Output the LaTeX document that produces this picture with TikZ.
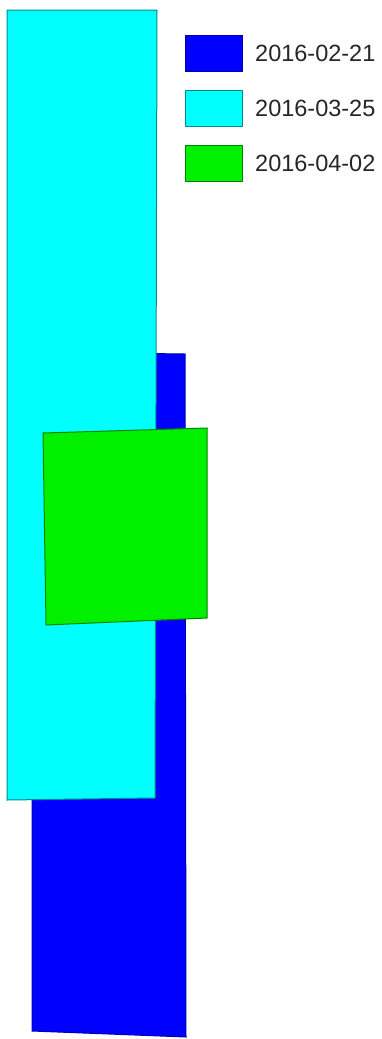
\documentclass[tikz,border=0pt]{standalone}
\usepackage{fontspec}
\setmainfont{Liberation Sans}
\usepackage{tikz}
\usepackage{xcolor}
\usetikzlibrary{positioning}

\definecolor{dateA}{RGB}{0,0,255}
\definecolor{dateB}{RGB}{0,255,255}
\definecolor{dateC}{RGB}{0,240,0}

\begin{document}
\begin{tikzpicture}[
    x=1pt, y=-1pt,
    node distance=18pt and 12pt,
    area/.style={line width=1pt, line join=miter},
    swatch/.style={draw, line width=1pt, minimum width=57pt, minimum height=36pt, inner sep=0pt},
    label/.style={font=\fontsize{23.5}{26}\selectfont, text=black!85, anchor=west, inner sep=0pt}
]
\useasboundingbox (0,0) rectangle (382,1039);

% footprints
\filldraw[dateA, area, draw=dateA!70!black] (32,352) -- (185,354) -- (186,1037) -- (32,1031) -- cycle;
\filldraw[dateB, area, draw=dateB!55!black] (7,10) -- (157,10) -- (155,798) -- (7,800) -- cycle;
\filldraw[dateC, area, draw=dateC!55!black] (43,433) -- (207,428) -- (207,618) -- (46,625) -- cycle;

% legend
\node[swatch, fill=dateA, draw=dateA!70!black] (feb) at (214,53.5) {};
\node[swatch, fill=dateB, draw=dateB!55!black, below=of feb] (mar) {};
\node[swatch, fill=dateC, draw=dateC!55!black, below=of mar] (apr) {};
\node[label, right=of feb] (febtxt) {2016-02-21};
\node[label, right=of mar] (martxt) {2016-03-25};
\node[label, right=of apr] (aprtxt) {2016-04-02};
\end{tikzpicture}
\end{document}
